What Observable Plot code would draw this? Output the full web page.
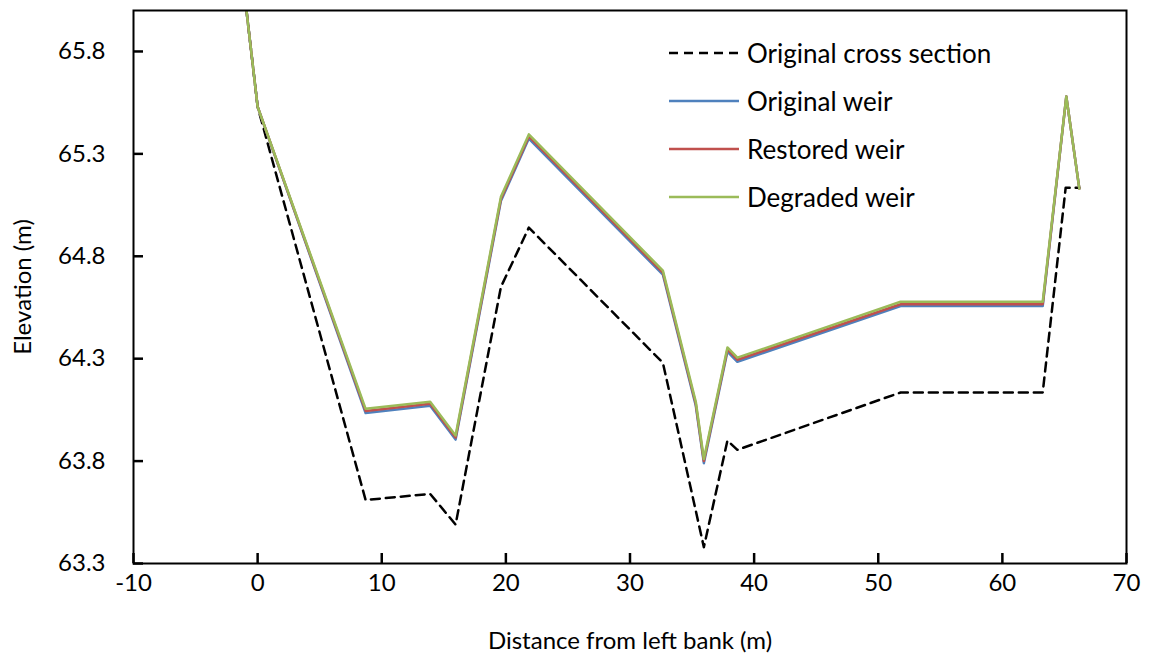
<!DOCTYPE html>
<html>
<head>
<meta charset="utf-8">
<script src="https://cdn.jsdelivr.net/npm/d3@7"></script>
<script src="https://cdn.jsdelivr.net/npm/@observablehq/plot@0.6"></script>
<style>
  html, body { margin: 0; padding: 0; background: #fff; }
  #wrap { position: relative; width: 1157px; height: 663px; font-family: Lato, "Open Sans", sans-serif; }
  #legend { position: absolute; left: 669px; top: 29px; font-size: 26px; color: #000; }
  #legend .row { display: flex; align-items: center; height: 48px; }
  #legend svg { margin-right: 8px; }
</style>
</head>
<body>
<div id="wrap"><div id="legend"></div></div>
<script>
// Axis ticks
const xTicks = [-10, 0, 10, 20, 30, 40, 50, 60, 70];
const yTicks = [63.3, 63.8, 64.3, 64.8, 65.3, 65.8];
const xDomain = [-10, 70];
const yDomain = [63.3, 66.0];

// Original cross section (dashed)
const crossX = [-0.9, 0, 8.7, 13.9, 15.95, 19.6, 21.85, 32.65, 35.95, 37.85, 38.65, 51.8, 63.25, 65.1, 66.2];
const crossY = [66.0, 65.53, 63.61, 63.64, 63.49, 64.65, 64.94, 64.28, 63.38, 63.90, 63.855, 64.135, 64.135, 65.135, 65.135];

// Weir profiles
const weirX = [-0.9, 0, 8.7, 13.9, 15.95, 19.6, 21.85, 32.65, 35.3, 35.95, 37.85, 38.65, 51.8, 63.25, 65.15, 66.2];
const originalWeirY = [66.0, 65.53, 64.035, 64.07, 63.905, 65.07, 65.375, 64.71, 64.07, 63.79, 64.335, 64.285, 64.557, 64.557, 65.58, 65.13];
const restoredWeirY = [66.0, 65.53, 64.045, 64.08, 63.915, 65.08, 65.385, 64.72, 64.08, 63.80, 64.345, 64.295, 64.566, 64.566, 65.58, 65.13];
const degradedWeirY = [66.0, 65.53, 64.055, 64.09, 63.925, 65.09, 65.395, 64.73, 64.09, 63.81, 64.355, 64.305, 64.578, 64.578, 65.58, 65.13];

const seriesNames = ["Original cross section", "Original weir", "Restored weir", "Degraded weir"];
const seriesColors = ["#000000", "#4F81BD", "#C0504D", "#9BBB59"];

const cross = crossX.map((x, i) => ({x, y: crossY[i]}));
const weirs = [originalWeirY, restoredWeirY, degradedWeirY].map(ys => weirX.map((x, i) => ({x, y: ys[i]})));

const font = "Lato, 'Open Sans', sans-serif";

const chart = Plot.plot({
  width: 1157,
  height: 663,
  marginLeft: 133,
  marginRight: 31,
  marginTop: 10,
  marginBottom: 100,
  style: {fontFamily: font, fontSize: "24px", color: "#000", background: "white"},
  x: {domain: xDomain},
  y: {domain: yDomain},
  marks: [
    Plot.axisX({ticks: xTicks, tickFormat: d => String(d), tickSize: 0, tickPadding: 10, fontSize: 24,
      label: "Distance from left bank (m)", labelAnchor: "center", labelArrow: "none", labelOffset: 85}),
    Plot.axisY({ticks: yTicks, tickFormat: d => d.toFixed(1), tickSize: 0, tickPadding: 28, fontSize: 24,
      label: "Elevation (m)", labelAnchor: "center", labelArrow: "none", labelOffset: 120}),
    Plot.line(cross, {x: "x", y: "y", stroke: seriesColors[0], strokeWidth: 2.5, strokeDasharray: "9,6", clip: true}),
    ...weirs.map((w, i) => Plot.line(w, {x: "x", y: "y", stroke: seriesColors[i + 1], strokeWidth: 2.5, clip: true})),
    Plot.frame({stroke: "black", strokeWidth: 2}),
    // inward tick marks
    Plot.ruleX(xTicks, {x: d => d, y1: () => yDomain[0], y2: () => yDomain[0], insetTop: -10, stroke: "black", strokeWidth: 2.5}),
    Plot.ruleY(yTicks, {y: d => d, x1: () => xDomain[0], x2: () => xDomain[0], insetRight: -10, stroke: "black", strokeWidth: 2.5})
  ]
});
document.getElementById("wrap").prepend(chart);

const legend = document.getElementById("legend");
seriesNames.forEach((name, i) => {
  const row = document.createElement("div");
  row.className = "row";
  const dash = i === 0 ? 'stroke-dasharray="9,6"' : "";
  row.innerHTML = `<svg width="70" height="6"><line x1="0" y1="3" x2="70" y2="3" stroke="${seriesColors[i]}" stroke-width="2.5" ${dash}/></svg><span>${name}</span>`;
  legend.appendChild(row);
});
</script>
</body>
</html>
